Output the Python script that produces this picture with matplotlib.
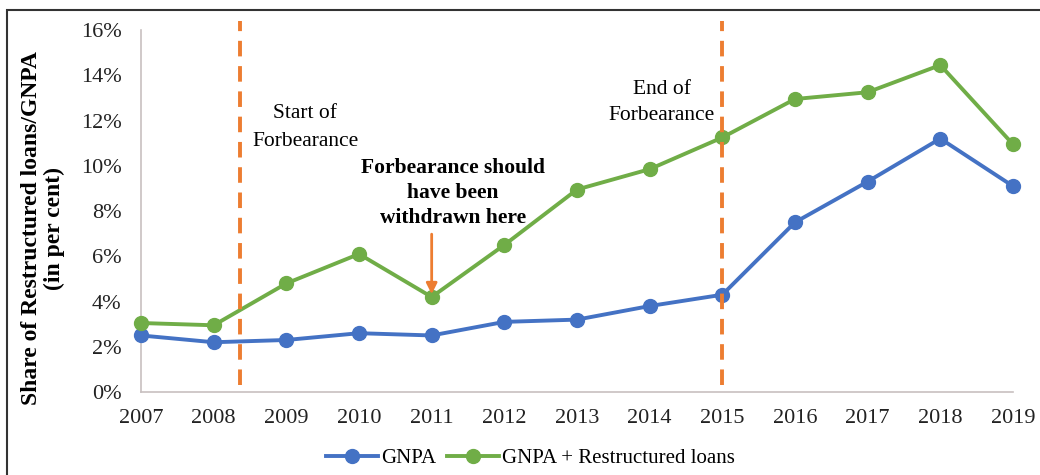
import matplotlib.pyplot as plt
from matplotlib.patches import Rectangle
from matplotlib.ticker import FuncFormatter

plt.rcParams['font.family'] = ['Liberation Serif', 'DejaVu Serif']

years = [2007, 2008, 2009, 2010, 2011, 2012, 2013, 2014, 2015, 2016, 2017, 2018, 2019]
gnpa = [2.5, 2.2, 2.3, 2.6, 2.5, 3.1, 3.2, 3.8, 4.3, 7.5, 9.3, 11.2, 9.1]
gnpa_restr = [3.05, 2.95, 4.8, 6.1, 4.2, 6.5, 8.95, 9.85, 11.25, 12.95, 13.25, 14.45, 10.95]
start_forb = 2008.36
end_forb = 2015.0

blue = '#4472C4'
green = '#70AD47'
orange = '#ED7D31'

fig = plt.figure(figsize=(10.4, 4.75), dpi=100)
ax = fig.add_axes([0.1356, 0.1747, 0.974 - 0.1356, 0.9368 - 0.1747])

ax.plot(years, gnpa, color=blue, lw=2.8, marker='o', ms=10, label='GNPA', clip_on=False, zorder=3)
ax.plot(years, gnpa_restr, color=green, lw=2.8, marker='o', ms=10,
        label='GNPA + Restructured loans', clip_on=False, zorder=3)

for xv in (start_forb, end_forb):
    ax.plot([xv, xv], [0.3, 16.4], color=orange, lw=2.8, ls=(0, (4, 2.5)), clip_on=False, zorder=4)

ax.set_xlim(2007, 2019)
ax.set_ylim(0, 16)
ax.set_xticks(years)
ax.set_yticks(range(0, 17, 2))
ax.yaxis.set_major_formatter(FuncFormatter(lambda v, p: f'{v:.0f}%'))
ax.tick_params(length=0, labelsize=16, colors='#222222')
ax.tick_params(axis='x', pad=12)
ax.tick_params(axis='y', pad=14)
for s in ('top', 'right'):
    ax.spines[s].set_visible(False)
for s in ('left', 'bottom'):
    ax.spines[s].set_color('#c8c0c0')
    ax.spines[s].set_linewidth(1.2)

ax.set_ylabel('Share of Restructured loans/GNPA\n(in per cent)', fontsize=17, fontweight='bold',
              linespacing=1.1)
ax.yaxis.set_label_coords(-0.087, 0.453)

ax.text(2009.26, 11.7, 'Start of\nForbearance', ha='center', va='center', fontsize=15.5, linespacing=1.6)
ax.text(2014.17, 12.8, 'End of\nForbearance', ha='center', va='center', fontsize=15.5, linespacing=1.45)
ax.text(2011.29, 8.8, 'Forbearance should\nhave been\nwithdrawn here', ha='center', va='center',
        fontsize=15.5, fontweight='bold', linespacing=1.35)
ax.annotate('', xy=(2011, 4.2), xytext=(2011, 7.1),
            arrowprops=dict(arrowstyle='-|>', color=orange, lw=2, mutation_scale=16))

ax.legend(loc='upper center', bbox_to_anchor=(0.447, -0.105), ncol=2, frameon=False, fontsize=15,
          handlelength=2.5, columnspacing=0.5, handletextpad=0.15)

fig.patches.append(Rectangle((7 / 1040, -0.05), 1.1, 1 - 10 / 475 + 0.05, transform=fig.transFigure,
                             fill=False, edgecolor='#333333', lw=1.5))

fig.savefig('out.png', dpi=100)
